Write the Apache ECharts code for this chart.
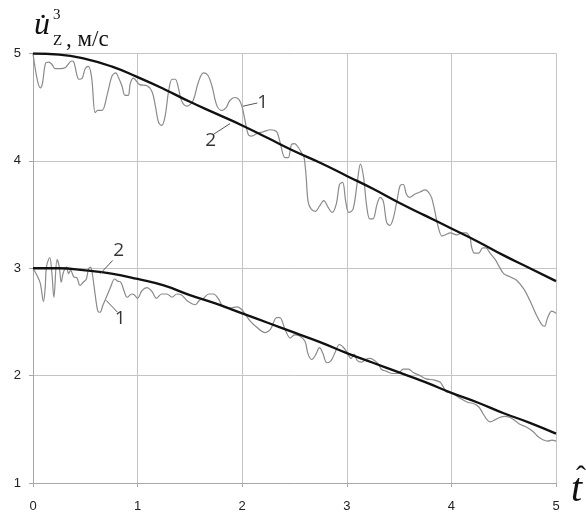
<!DOCTYPE html>
<html>
<head>
<meta charset="utf-8">
<script src="https://cdn.jsdelivr.net/npm/echarts@6/dist/echarts.min.js"></script>
<style>
  html, body { margin: 0; padding: 0; background: #fff; }
  #chart { width: 586px; height: 513px; }
</style>
</head>
<body>
<div id="chart"></div>
<script>
// Tick labels
var xTicks = [0, 1, 2, 3, 4, 5];
var yTicks = [1, 2, 3, 4, 5];

// Curve 2 (computed), upper and lower
var smoothT = [0, 0.25, 0.5, 0.75, 1, 1.25, 1.5, 1.75, 2, 2.25, 2.5, 2.75, 3, 3.25, 3.5, 3.75, 4, 4.25, 4.5, 4.75, 5];
var upperSmoothV = [5.00, 4.99, 4.95, 4.88, 4.78, 4.67, 4.55, 4.44, 4.33, 4.21, 4.09, 3.98, 3.86, 3.74, 3.61, 3.49, 3.37, 3.25, 3.12, 3.00, 2.88];
var lowerSmoothV = [3.00, 3.00, 2.98, 2.95, 2.90, 2.84, 2.75, 2.67, 2.58, 2.49, 2.40, 2.31, 2.21, 2.12, 2.03, 1.94, 1.84, 1.75, 1.65, 1.56, 1.46];

// Curve 1 (measured), upper
var upperNoisyT = [0, 0.04, 0.07, 0.09, 0.12, 0.15, 0.18, 0.21, 0.26, 0.31, 0.37, 0.39, 0.44, 0.47, 0.50, 0.53, 0.56, 0.595, 0.62, 0.66, 0.71, 0.755, 0.79, 0.82, 0.85, 0.88, 0.91, 0.93, 0.96,
  1.02, 1.09, 1.14, 1.17, 1.20, 1.23, 1.26, 1.30, 1.33, 1.36, 1.39, 1.42, 1.47, 1.53, 1.58, 1.63, 1.67, 1.71, 1.76, 1.81, 1.85, 1.88, 1.93, 1.97,
  2.00, 2.03, 2.06, 2.09, 2.15, 2.20, 2.27, 2.33, 2.36, 2.41, 2.44, 2.47, 2.50, 2.54, 2.57, 2.59, 2.61, 2.63, 2.66, 2.70, 2.74, 2.78, 2.82, 2.86, 2.90, 2.93, 2.96, 2.99,
  3.02, 3.06, 3.10, 3.13, 3.16, 3.19, 3.22, 3.25, 3.29, 3.32, 3.35, 3.38, 3.41, 3.44, 3.48, 3.51, 3.54, 3.57, 3.60, 3.65, 3.70, 3.75, 3.78, 3.81, 3.84, 3.87, 3.91, 3.94, 3.99,
  4.05, 4.10, 4.14, 4.18, 4.19, 4.22, 4.26, 4.30, 4.33, 4.37, 4.42, 4.46, 4.50, 4.56, 4.62, 4.69, 4.75, 4.81, 4.86, 4.89, 4.92, 4.96, 5.00];
var upperNoisyV = [5.00, 4.76, 4.68, 4.72, 4.91, 4.92, 4.90, 4.86, 4.86, 4.87, 4.93, 4.92, 4.76, 4.77, 4.86, 4.88, 4.78, 4.45, 4.47, 4.47, 4.62, 4.79, 4.82, 4.77, 4.70, 4.61, 4.61, 4.72, 4.77,
  4.71, 4.70, 4.64, 4.51, 4.36, 4.33, 4.40, 4.67, 4.76, 4.76, 4.68, 4.56, 4.51, 4.56, 4.73, 4.82, 4.80, 4.70, 4.51, 4.47, 4.50, 4.56, 4.59, 4.57,
  4.50, 4.36, 4.24, 4.23, 4.26, 4.27, 4.29, 4.27, 4.18, 4.03, 4.03, 4.15, 4.16, 4.12, 4.07, 4.04, 3.87, 3.62, 3.55, 3.53, 3.58, 3.63, 3.57, 3.52, 3.60, 3.78, 3.80, 3.62,
  3.52, 3.55, 3.80, 3.97, 3.85, 3.58, 3.46, 3.46, 3.60, 3.66, 3.62, 3.43, 3.40, 3.45, 3.63, 3.77, 3.78, 3.69, 3.66, 3.69, 3.71, 3.73, 3.71, 3.66, 3.54, 3.40, 3.30, 3.31, 3.33,
  3.31, 3.33, 3.33, 3.28, 3.21, 3.14, 3.14, 3.19, 3.19, 3.14, 3.08, 3.01, 2.95, 2.92, 2.89, 2.81, 2.70, 2.57, 2.48, 2.46, 2.54, 2.60, 2.58];

// Curve 1 (measured), lower
var lowerNoisyT = [0, 0.04, 0.07, 0.10, 0.115, 0.13, 0.16, 0.18, 0.20, 0.23, 0.25, 0.27, 0.29, 0.32, 0.34, 0.36, 0.39, 0.42, 0.45, 0.48, 0.51, 0.53, 0.55, 0.57, 0.595, 0.62, 0.64, 0.67, 0.71, 0.74, 0.78, 0.81, 0.84, 0.87, 0.90, 0.945, 0.97,
  1.00, 1.04, 1.09, 1.14, 1.18, 1.23, 1.28, 1.33, 1.375, 1.42, 1.47, 1.52, 1.55, 1.59, 1.63, 1.68, 1.725, 1.77, 1.82, 1.885, 1.95, 1.99,
  2.03, 2.075, 2.14, 2.22, 2.27, 2.33, 2.36, 2.41, 2.46, 2.50, 2.55, 2.60, 2.63, 2.665, 2.70, 2.74, 2.77, 2.81, 2.85, 2.89, 2.93, 2.97,
  3.00, 3.04, 3.07, 3.10, 3.14, 3.18, 3.22, 3.25, 3.30, 3.33, 3.38, 3.44, 3.49, 3.54, 3.59, 3.635, 3.70, 3.76, 3.83, 3.89, 3.92, 3.95,
  4.00, 4.05, 4.10, 4.16, 4.21, 4.26, 4.30, 4.34, 4.37, 4.42, 4.46, 4.51, 4.56, 4.61, 4.65, 4.72, 4.78, 4.83, 4.88, 4.92, 4.96, 5.00];
var lowerNoisyV = [3.00, 2.93, 2.86, 2.69, 2.80, 3.02, 3.10, 2.96, 2.73, 3.08, 3.02, 2.87, 2.96, 3.01, 2.95, 2.98, 2.92, 2.91, 2.84, 2.87, 2.90, 2.99, 3.01, 2.93, 2.75, 2.60, 2.59, 2.66, 2.75, 2.82, 2.90, 2.88, 2.87, 2.79, 2.73, 2.76, 2.75,
  2.72, 2.79, 2.82, 2.78, 2.72, 2.76, 2.76, 2.73, 2.76, 2.75, 2.70, 2.67, 2.66, 2.70, 2.72, 2.76, 2.76, 2.72, 2.64, 2.63, 2.64, 2.62,
  2.57, 2.51, 2.45, 2.40, 2.43, 2.54, 2.54, 2.43, 2.35, 2.38, 2.37, 2.32, 2.20, 2.15, 2.19, 2.26, 2.21, 2.12, 2.14, 2.22, 2.29, 2.26,
  2.22, 2.16, 2.20, 2.14, 2.125, 2.15, 2.16, 2.15, 2.11, 2.06, 2.04, 2.02, 2.02, 2.06, 2.06, 2.03, 2.00, 1.97, 1.96, 1.94, 1.90, 1.85,
  1.84, 1.81, 1.78, 1.75, 1.74, 1.71, 1.65, 1.59, 1.57, 1.59, 1.61, 1.62, 1.61, 1.58, 1.55, 1.52, 1.48, 1.43, 1.40, 1.39, 1.40, 1.39];

// Curve number callouts: label position and leader line (axis units)
var calloutText = ['1', '2', '2', '1'];
var calloutLabelT = [2.195, 1.698, 0.818, 0.834];
var calloutLabelV = [4.539, 4.187, 3.160, 2.530];
var leaderFromT = [2.006, 1.725, 0.643, 0.700];
var leaderFromV = [4.509, 4.247, 2.950, 2.700];
var leaderToT = [2.145, 1.884, 0.762, 0.808];
var leaderToV = [4.539, 4.347, 3.073, 2.590];

function zip(ts, vs) {
  return ts.map(function (t, i) { return [t, vs[i]]; });
}

var series = [];
function noisy(ts, vs) {
  series.push({
    type: 'line', data: zip(ts, vs), showSymbol: false, smooth: 0.35,
    lineStyle: { color: '#8a8a8a', width: 1.2 }, silent: true, z: 2
  });
}
function model(ts, vs) {
  series.push({
    type: 'line', data: zip(ts, vs), showSymbol: false, smooth: true,
    lineStyle: { color: '#111', width: 2.3 }, silent: true, z: 3
  });
}
noisy(upperNoisyT, upperNoisyV);
noisy(lowerNoisyT, lowerNoisyV);
model(smoothT, upperSmoothV);
model(smoothT, lowerSmoothV);

calloutText.forEach(function (txt, i) {
  series.push({
    type: 'line', data: [[leaderFromT[i], leaderFromV[i]], [leaderToT[i], leaderToV[i]]],
    showSymbol: false, lineStyle: { color: '#444', width: 0.9 }, silent: true, z: 4
  });
});
series.push({
  type: 'scatter', symbolSize: 0, silent: true, z: 5,
  data: calloutText.map(function (txt, i) { return { value: [calloutLabelT[i], calloutLabelV[i]], name: txt }; }),
  label: {
    show: true, position: 'inside', formatter: function (p) { return p.name; },
    fontFamily: 'Open Sans, Liberation Sans, sans-serif', fontSize: 19, color: '#000'
  }
});

var chart = echarts.init(document.getElementById('chart'), null, { renderer: 'canvas' });
var gridColor = '#c4c4c4';
chart.setOption({
  animation: false,
  backgroundColor: '#fff',
  grid: { left: 33, right: 30, top: 53.5, bottom: 21.3, containLabel: false },
  xAxis: {
    type: 'value', min: xTicks[0], max: xTicks[xTicks.length - 1], interval: 1,
    axisLine: { show: true, lineStyle: { color: '#a8a8a8', width: 1 } },
    axisTick: { show: true, length: 4, lineStyle: { color: '#a8a8a8' } },
    splitLine: { show: true, lineStyle: { color: gridColor, width: 1 } },
    axisLabel: { margin: 17, fontSize: 13, color: '#222', fontFamily: 'Liberation Sans, sans-serif' }
  },
  yAxis: {
    type: 'value', min: yTicks[0], max: yTicks[yTicks.length - 1], interval: 1,
    axisLine: { show: true, lineStyle: { color: '#a8a8a8', width: 1 } },
    axisTick: { show: true, length: 4, lineStyle: { color: '#a8a8a8' } },
    splitLine: { show: true, lineStyle: { color: gridColor, width: 1 } },
    axisLabel: { margin: 12, fontSize: 13, color: '#222', fontFamily: 'Liberation Sans, sans-serif' }
  },
  graphic: [
    { type: 'text', left: 34, top: 10, style: { text: 'u\u0307', font: 'italic 32px "Liberation Serif", serif', fill: '#111' } },
    { type: 'text', left: 53, top: 8, style: { text: '3', font: '15px "Liberation Serif", serif', fill: '#111' } },
    { type: 'text', left: 53, top: 34, style: { text: 'Z', font: '15px "Liberation Serif", serif', fill: '#111' } },
    { type: 'text', left: 66, top: 28, style: { text: ', м/с', font: '23px "Liberation Serif", serif', fill: '#111' } },
    { type: 'text', left: 571, top: 470, style: { text: 't', font: 'italic 40px "Liberation Serif", serif', fill: '#111' } },
    { type: 'text', left: 576, top: 463, style: { text: '\u02C6', font: '30px "Liberation Serif", serif', fill: '#111' } }
  ],
  series: series
});
</script>
</body>
</html>
